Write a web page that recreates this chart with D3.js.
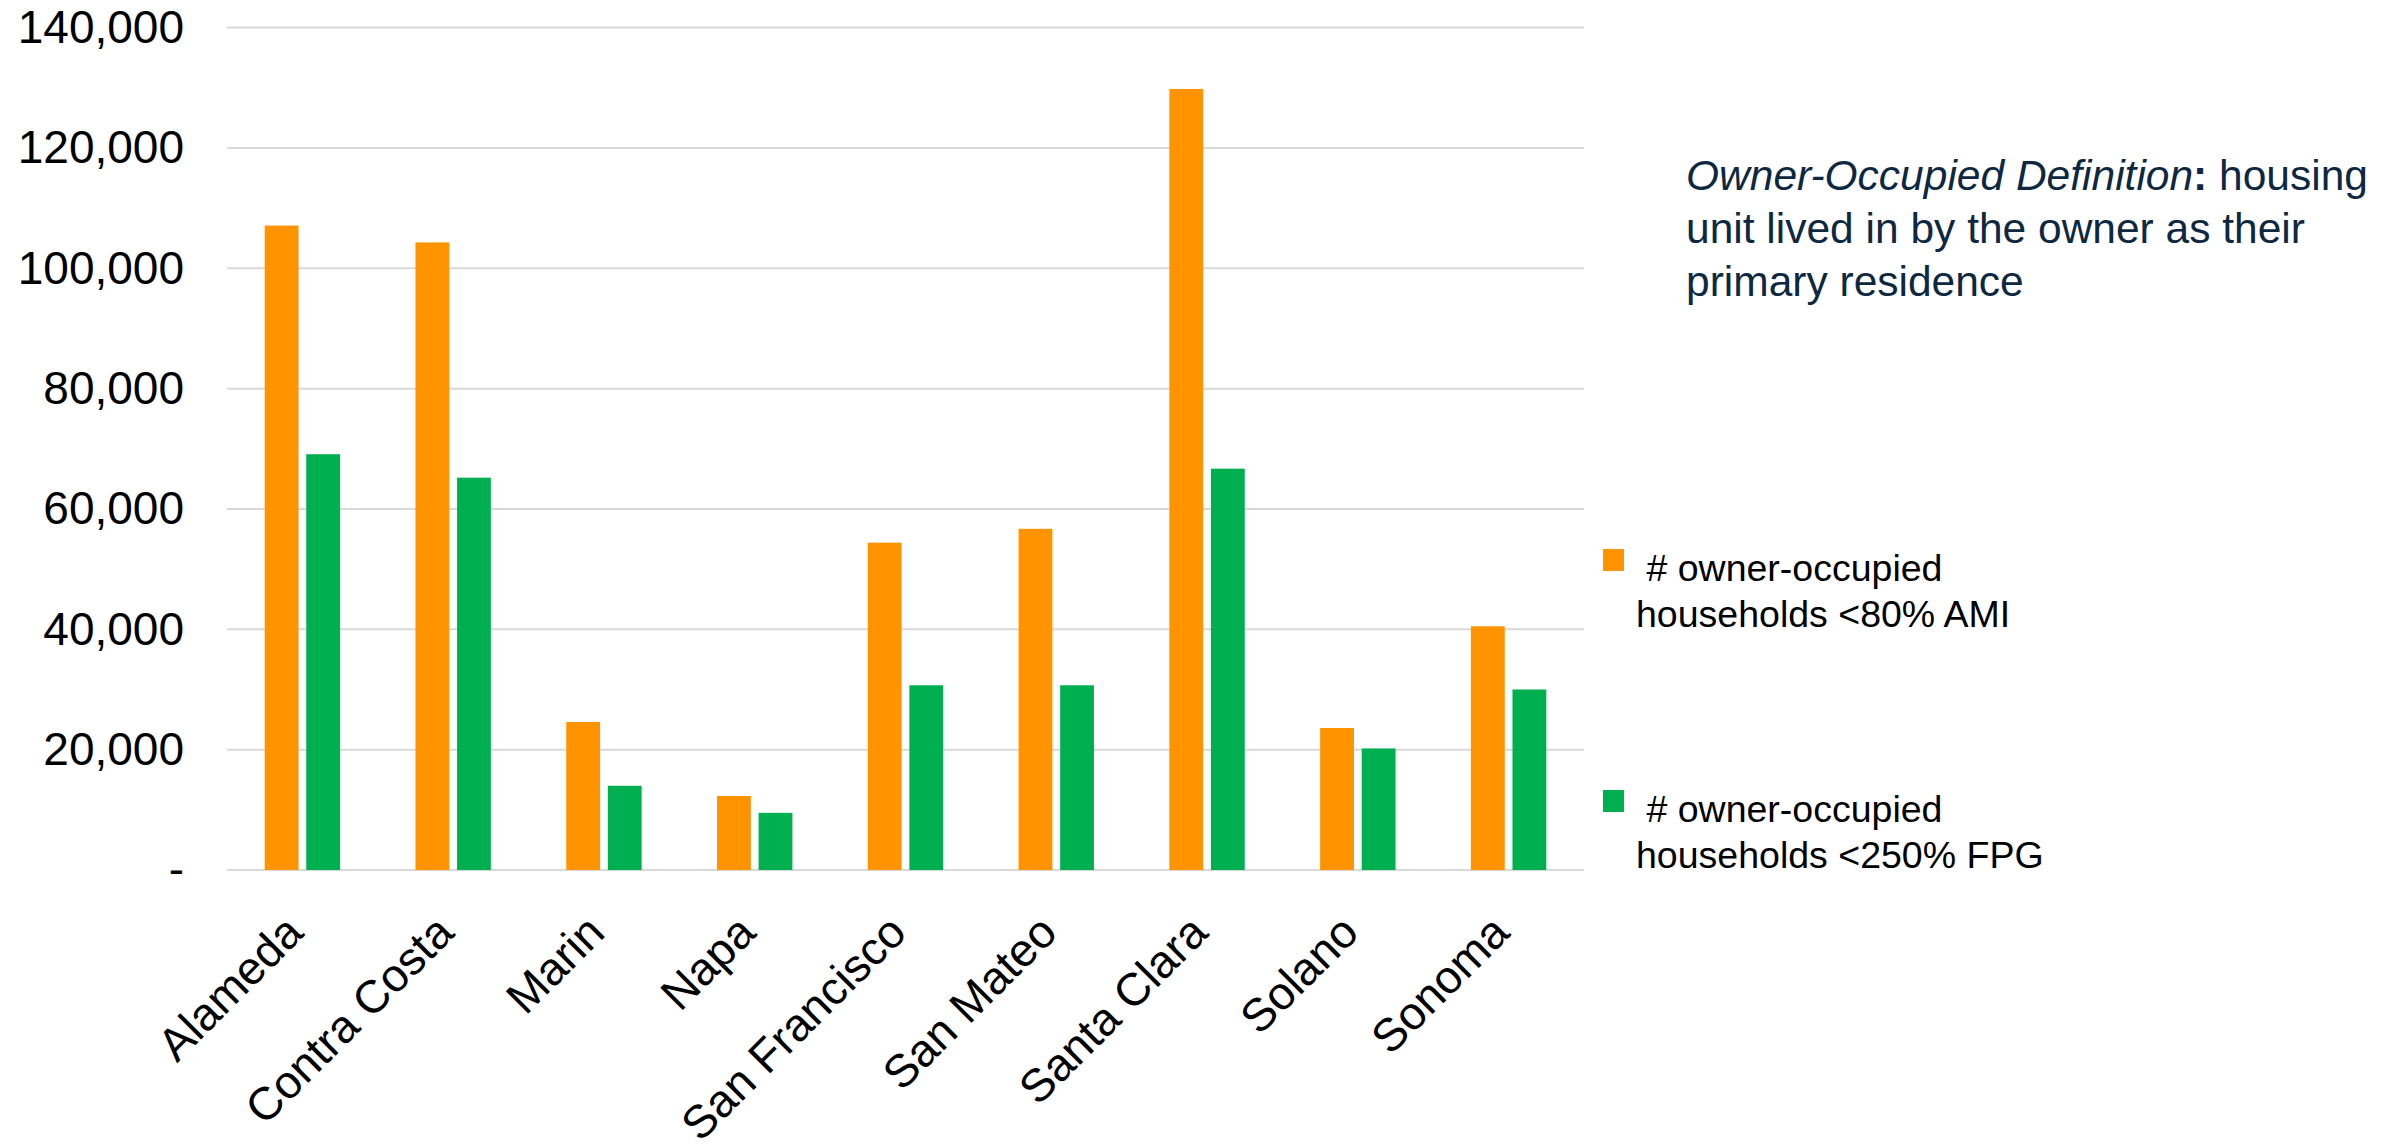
<!DOCTYPE html>
<html>
<head>
<meta charset="utf-8">
<script src="https://cdn.jsdelivr.net/npm/d3@7"></script>
<style>
    body { margin: 0; background: #ffffff; }
    svg { display: block; font-family: 'Liberation Sans', Arial, sans-serif; }
</style>
</head>
<body>
<svg id="chart"></svg>
<script>

// counties on the x axis
const counties = ['Alameda', 'Contra Costa', 'Marin', 'Napa', 'San Francisco',
    'San Mateo', 'Santa Clara', 'Solano', 'Sonoma']

// # owner-occupied households <80% AMI
const ami80 = [107100, 104300, 24600, 12300, 54400, 56700, 129800, 23600, 40500]

// # owner-occupied households <250% FPG
const fpg250 = [69100, 65200, 14000, 9500, 30700, 30700, 66700, 20200, 30000]

const yTicks = [0, 20000, 40000, 60000, 80000, 100000, 120000, 140000]

const legendLabels = [
    [' # owner-occupied', 'households <80% AMI'],
    [' # owner-occupied', 'households <250% FPG']
]
const seriesColors = ['#ff9300', '#00af50']

const noteLines = ['unit lived in by the owner as their', 'primary residence']


class OwnerChart {

    constructor(parentElement) {
        let vis = this

        vis.parentElement = parentElement
        vis.width = 2406
        vis.height = 1144
        vis.plot = {left: 227, right: 1584, top: 27.6, bottom: 870}

        vis.svg = d3.select(vis.parentElement)
            .attr('width', vis.width)
            .attr('height', vis.height)

        vis.x = d3.scaleBand()
            .domain(counties)
            .range([vis.plot.left, vis.plot.right])
            .paddingInner(0.5)
            .paddingOuter(0.25)

        vis.xSeries = d3.scaleBand()
            .domain([0, 1])
            .range([0, vis.x.bandwidth()])
            .paddingInner(0.186)

        vis.y = d3.scaleLinear()
            .domain([0, 140000])
            .range([vis.plot.bottom, vis.plot.top])

        vis.drawGrid()
        vis.drawBars()
        vis.drawAxes()
        vis.drawLegend()
        vis.drawNote()
    }

    drawGrid() {
        let vis = this
        vis.svg.append('g')
            .selectAll('line')
            .data(yTicks)
            .join('line')
            .attr('x1', vis.plot.left)
            .attr('x2', vis.plot.right)
            .attr('y1', d => vis.y(d))
            .attr('y2', d => vis.y(d))
            .attr('stroke', '#d9d9d9')
            .attr('stroke-width', 2)
    }

    drawBars() {
        let vis = this
        let rows = counties.map((c, i) => ({county: c, values: [ami80[i], fpg250[i]]}))

        vis.svg.append('g')
            .selectAll('g')
            .data(rows)
            .join('g')
            .attr('transform', d => `translate(${vis.x(d.county)},0)`)
            .selectAll('rect')
            .data(d => d.values.map((v, k) => ({k: k, v: v})))
            .join('rect')
            .attr('x', d => vis.xSeries(d.k))
            .attr('width', vis.xSeries.bandwidth())
            .attr('y', d => vis.y(d.v))
            .attr('height', d => vis.y(0) - vis.y(d.v))
            .attr('fill', d => seriesColors[d.k])
    }

    drawAxes() {
        let vis = this

        // y labels, zero shown as a dash
        let yAxis = d3.axisLeft(vis.y)
            .tickValues(yTicks)
            .tickSize(0)
            .tickPadding(43)
            .tickFormat(d => d === 0 ? '-' : d3.format(',')(d))

        let yg = vis.svg.append('g')
            .attr('transform', `translate(${vis.plot.left},0)`)
            .call(yAxis)
        yg.select('.domain').remove()
        yg.selectAll('text')
            .attr('font-family', 'Liberation Sans, Arial, sans-serif')
            .attr('font-size', '46px')
            .attr('fill', '#000')

        // x labels rotated
        vis.svg.append('g')
            .selectAll('text')
            .data(counties)
            .join('text')
            .attr('transform', d => `translate(${vis.x(d) + vis.x.bandwidth() / 2 + 3},935) rotate(-45)`)
            .attr('text-anchor', 'end')
            .attr('font-size', '46px')
            .attr('fill', '#000')
            .text(d => d)
    }

    drawLegend() {
        let vis = this
        let entry = vis.svg.append('g')
            .selectAll('g')
            .data(legendLabels)
            .join('g')
            .attr('transform', (d, i) => `translate(1603,${549 + i * 241})`)

        entry.append('rect')
            .attr('width', 21)
            .attr('height', 22)
            .attr('fill', (d, i) => seriesColors[i])

        entry.append('text')
            .attr('x', 33)
            .attr('y', 32)
            .attr('font-size', '37.5px')
            .attr('fill', '#000')
            .attr('xml:space', 'preserve')
            .selectAll('tspan')
            .data(d => d)
            .join('tspan')
            .attr('x', 33)
            .attr('dy', (d, i) => i === 0 ? 0 : 46)
            .text(d => d)
    }

    drawNote() {
        let vis = this
        let note = vis.svg.append('text')
            .attr('x', 1686)
            .attr('y', 190)
            .attr('font-size', '42.5px')
            .attr('fill', '#0e2841')

        note.append('tspan')
            .attr('font-style', 'italic')
            .text('Owner-Occupied Definition')
        note.append('tspan')
            .attr('font-weight', 'bold')
            .text(':')
        note.append('tspan')
            .text(' housing')

        note.selectAll('tspan.line')
            .data(noteLines)
            .join('tspan')
            .attr('class', 'line')
            .attr('x', 1686)
            .attr('dy', 53)
            .text(d => d)
    }
}

let chart = new OwnerChart('#chart')
</script>
</body>
</html>
